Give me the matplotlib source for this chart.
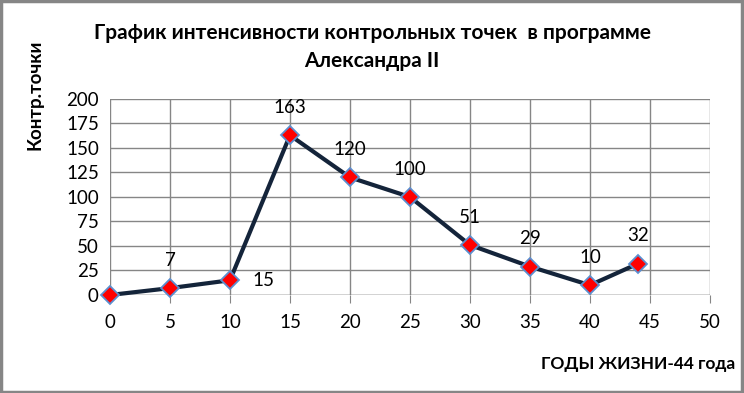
import matplotlib
matplotlib.use("Agg")
import matplotlib.pyplot as plt
from matplotlib.patches import Rectangle

plt.rcParams['font.family'] = ['Lato', 'DejaVu Sans']

years = [0, 5, 10, 15, 20, 25, 30, 35, 40, 44]
points = [0, 7, 15, 163, 120, 100, 51, 29, 10, 32]
labels = ["", "7", "15", "163", "120", "100", "51", "29", "10", "32"]

fig = plt.figure(figsize=(7.44, 3.93), dpi=100)
ax = fig.add_axes([0.1478, 0.2494, 0.8065, 0.4987])

ax.plot(years, points, color="#14243a", lw=3, zorder=3, clip_on=False,
        marker="D", markersize=9, markerfacecolor="#ff0000",
        markeredgecolor="#5b8fd0", markeredgewidth=1.3)

for x, y, s in zip(years, points, labels):
    if not s:
        continue
    if x == 10:
        ax.annotate(s, (x, y), xytext=(16, 0), textcoords="offset points",
                    ha="left", va="center", fontsize=13.5)
    else:
        ax.annotate(s, (x, y), xytext=(0, 14), textcoords="offset points",
                    ha="center", va="bottom", fontsize=13.5)

ax.set_xlim(0, 50)
ax.set_ylim(0, 200)
ax.set_xticks(range(0, 51, 5))
ax.set_yticks(range(0, 201, 25))
ax.grid(True, color="#868686", lw=1)
ax.set_axisbelow(True)
for sp in ax.spines.values():
    sp.set_visible(False)
ax.tick_params(axis="x", length=6, color="#868686", labelsize=13.5, pad=8)
ax.tick_params(axis="y", length=0, labelsize=13.5, pad=8)
ax.axhline(0, color="#868686", lw=1, zorder=1)

fig.text(0.5, 0.915, "График интенсивности контрольных точек  в программе",
         ha="center", va="center", fontsize=15, fontweight="bold")
fig.text(0.5, 0.845, "Александра II", ha="center", va="center",
         fontsize=15, fontweight="bold")
fig.text(0.047, 0.76, "Контр.точки", rotation=90, ha="center", va="center",
         fontsize=13.5, fontweight="bold")
fig.text(0.988, 0.075, "ГОДЫ ЖИЗНИ-44 года", ha="right", va="center",
         fontsize=12.5, fontweight="bold")

fig.patches.append(Rectangle((0.002, 0.003), 0.995, 0.994, transform=fig.transFigure,
                             fill=False, edgecolor="#868686", lw=2.5))

fig.savefig("out.png", dpi=100)
